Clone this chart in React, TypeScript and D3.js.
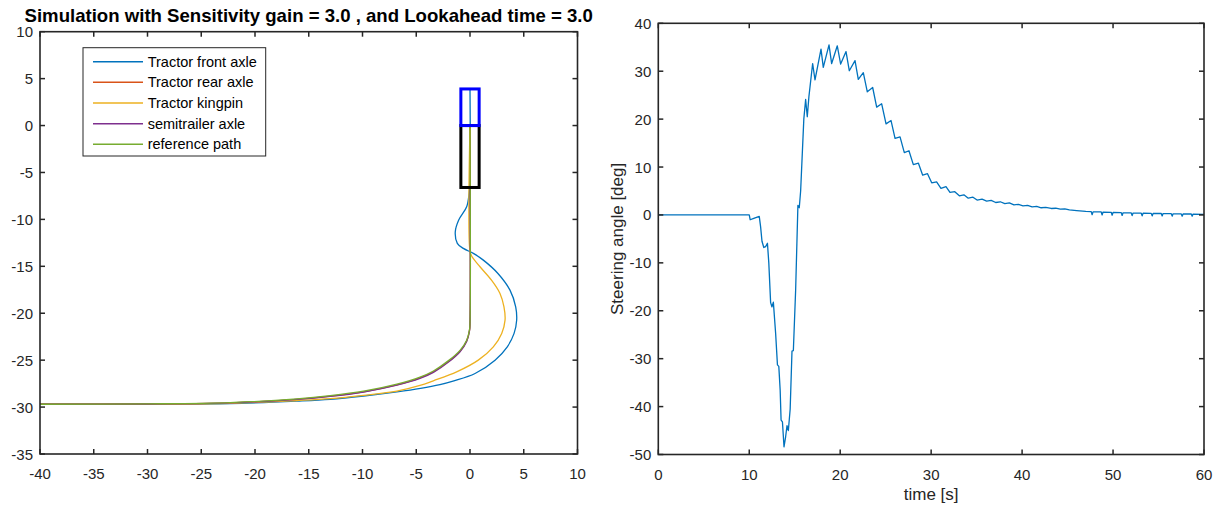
import React from "react";
import * as d3 from "d3";

type Pt = [number, number];

// ---------- Left plot: trajectories ----------
const seriesNames = ["Tractor front axle", "Tractor rear axle", "Tractor kingpin", "semitrailer axle", "reference path"];
const seriesColors = ["#0072BD", "#D95319", "#EDB120", "#7E2F8E", "#77AC30"];

const frontAxle: Pt[] = [
  [-40, -29.7], [-30, -29.68], [-22.3, -29.62], [-16.1, -29.36], [-13, -29.17], [-9.9, -28.82],
  [-6.8, -28.38], [-4.6, -28.0], [-2.8, -27.6], [-1.5, -27.2], [0.47, -26.42], [2.33, -25.0],
  [3.47, -23.58], [4.1, -22.15], [4.34, -20.74], [4.25, -19.32], [3.72, -17.54], [2.6, -15.76],
  [1.24, -14.34], [0.31, -13.62], [-0.62, -13.09], [-1.18, -12.56], [-1.37, -11.32],
  [-1.05, -10.07], [-0.31, -8.66], [-0.08, -7.2], [0, -6], [0, 3.9],
];
const rearAxle: Pt[] = [
  [-40, -29.7], [-30, -29.67], [-22.3, -29.55], [-16.1, -29.17], [-13, -28.84], [-9.9, -28.37],
  [-6.8, -27.63], [-4.65, -26.89], [-3.4, -26.24], [-2.0, -25.15], [-0.93, -24.05], [-0.31, -22.95],
  [-0.05, -21.85], [0, -21], [0, 0],
];
const kingpin: Pt[] = [
  [-40, -29.7], [-30, -29.68], [-22.3, -29.6], [-16.1, -29.3], [-13, -29.1], [-9.9, -28.75],
  [-6.8, -28.3], [-4.65, -27.7], [-3.41, -27.2], [-1.24, -26.25], [0.77, -25.0], [2.17, -23.58],
  [2.95, -22.15], [3.26, -20.74], [3.16, -19.32], [2.79, -17.89], [2.0, -16.47], [0.93, -15.05],
  [0.15, -13.9], [0, -13.4], [0, 0],
];
const trailerAxle: Pt[] = [
  [-40, -29.7], [-30, -29.67], [-22.3, -29.56], [-16.1, -29.19], [-13, -28.87], [-9.9, -28.4],
  [-6.8, -27.67], [-4.65, -26.94], [-3.4, -26.3], [-2.0, -25.2], [-0.93, -24.1], [-0.31, -23.0],
  [-0.05, -21.9], [0, -21], [0, -6.6],
];
const referencePath: Pt[] = [
  [-40, -29.7], [-30, -29.66], [-22.3, -29.52], [-16.1, -29.12], [-13, -28.78], [-9.9, -28.3],
  [-6.8, -27.55], [-4.65, -26.8], [-3.4, -26.15], [-2.0, -25.05], [-0.93, -23.95], [-0.31, -22.87],
  [-0.05, -21.8], [0, -21], [0, 0],
];
const trajectories = [frontAxle, rearAxle, kingpin, trailerAxle, referencePath];

// vehicle outlines [x0, x1, y0, y1]
const tractorBox = [-0.85, 0.85, 0, 3.9];
const trailerBox = [-0.85, 0.85, -6.6, 0];

const leftXTicks = [-40, -35, -30, -25, -20, -15, -10, -5, 0, 5, 10];
const leftYTicks = [-35, -30, -25, -20, -15, -10, -5, 0, 5, 10];

// ---------- Right plot: steering angle ----------
const steerTime = [
  0, 10.0, 10.1, 10.5, 11.1, 11.25, 11.4, 11.6, 11.8, 12.0, 12.15, 12.35, 12.5, 12.65, 12.9, 13.1,
  13.25, 13.4, 13.5, 13.65, 13.82, 14.0, 14.15, 14.3, 14.5, 14.7, 14.85, 15.1, 15.35, 15.5, 15.65,
  16.0, 16.2, 16.38, 16.56, 16.97, 17.23, 17.89, 18.14, 18.77, 19.06, 19.68, 20.05, 20.64, 21.0,
  21.63, 21.99, 22.54, 22.98, 23.57, 24.01, 24.56, 25.04, 25.59, 26.03, 26.58, 27.05, 27.56,
  28.04, 28.6, 29.07, 29.6, 30.06, 30.6, 31.08, 31.63, 32.07, 32.6, 33.1, 33.6, 34.08, 34.6,
  35.05, 35.6, 36.1, 36.6, 37.1, 37.6, 38.1, 38.6, 39.1, 39.6, 40.1, 40.6, 41.1, 41.6, 42.1,
  42.6, 43.2, 43.7, 44.2, 44.7, 45.2, 46.0, 47.0, 47.6, 47.7, 47.8, 48.7, 48.8, 48.9, 49.8,
  49.9, 50.0, 50.9, 51.0, 51.1, 52.0, 52.1, 52.2, 53.1, 53.2, 53.3, 54.2, 54.3, 54.4, 55.3,
  55.4, 55.5, 56.4, 56.5, 56.6, 57.5, 57.6, 57.7, 58.6, 58.7, 58.8, 60.0,
];
const steerAngle = [
  0, 0, -1.0, -0.7, -0.3, -2.5, -5.5, -6.8, -6.6, -5.9, -10, -18.3, -19.2, -18.2, -24.7, -31.3,
  -31.6, -36.6, -42.8, -43.2, -48.4, -46.3, -44.0, -45.0, -40.5, -28.4, -28.3, -15.7, 2.0, 1.5, 5,
  20, 24.1, 20.5, 24.7, 31.6, 28.2, 34.6, 30.8, 35.5, 31.6, 35.3, 31.5, 34.1, 30.1,
  32.2, 28.3, 29.7, 25.7, 26.6, 22.5, 23.2, 19.0, 19.7, 16.0, 16.3, 13.0, 13.4,
  10.5, 10.8, 8.3, 8.6, 6.7, 6.9, 5.55, 5.9, 4.7, 4.85, 4.0, 4.2, 3.5, 3.7,
  3.1, 3.3, 2.9, 3.05, 2.6, 2.75, 2.35, 2.5, 2.1, 2.2, 1.9, 2.0, 1.7, 1.8, 1.5,
  1.6, 1.35, 1.4, 1.2, 1.25, 1.05, 0.9, 0.75, 0.7, 0.05, 0.65, 0.62, 0.0, 0.6, 0.55,
  -0.05, 0.52, 0.48, -0.1, 0.45, 0.42, -0.15, 0.4, 0.37, -0.2, 0.35, 0.33, -0.2, 0.31, 0.3,
  -0.2, 0.28, 0.26, -0.25, 0.24, 0.22, -0.25, 0.21, 0.2, -0.25, 0.18, 0.1,
];
const rightXTicks = [0, 10, 20, 30, 40, 50, 60];
const rightYTicks = [-50, -40, -30, -20, -10, 0, 10, 20, 30, 40];

const titleText = "Simulation with Sensitivity gain = 3.0 , and Lookahead time = 3.0";
const xLabelRight = "time [s]";
const yLabelRight = "Steering angle [deg]";

const AX = "#262626";
const FONT = "'Liberation Sans', Arial, Helvetica, sans-serif";

function Frame({ x, y, xTicks, yTicks }: { x: d3.ScaleLinear<number, number>; y: d3.ScaleLinear<number, number>; xTicks: number[]; yTicks: number[] }) {
  const [x0, x1] = x.range();
  const [y0, y1] = y.range(); // y0 bottom, y1 top
  const tl = 5;
  return (
    <g>
      {xTicks.map((t) => (
        <g key={"x" + t}>
          <line x1={x(t)} x2={x(t)} y1={y0} y2={y0 - tl} stroke={AX} strokeWidth={1.5} />
          <line x1={x(t)} x2={x(t)} y1={y1} y2={y1 + tl} stroke={AX} strokeWidth={1.5} />
          <text x={x(t)} y={y0 + 25} textAnchor="middle" fontSize={15} fill={AX} fontFamily={FONT}>{t}</text>
        </g>
      ))}
      {yTicks.map((t) => (
        <g key={"y" + t}>
          <line x1={x0} x2={x0 + tl} y1={y(t)} y2={y(t)} stroke={AX} strokeWidth={1.5} />
          <line x1={x1} x2={x1 - tl} y1={y(t)} y2={y(t)} stroke={AX} strokeWidth={1.5} />
          <text x={x0 - 7} y={y(t) + 5.5} textAnchor="end" fontSize={15} fill={AX} fontFamily={FONT}>{t}</text>
        </g>
      ))}
      <rect x={x0} y={y1} width={x1 - x0} height={y0 - y1} fill="none" stroke={AX} strokeWidth={1.6} />
    </g>
  );
}

export default function App() {
  const xL = d3.scaleLinear().domain([-40, 10]).range([40, 577.5]);
  const yL = d3.scaleLinear().domain([-35, 10]).range([454, 31.7]);
  const xR = d3.scaleLinear().domain([0, 60]).range([658.3, 1204]);
  const yR = d3.scaleLinear().domain([-50, 40]).range([454.5, 23.3]);

  const pathGen = d3.line<Pt>().x((d) => xL(d[0])).y((d) => yL(d[1])).curve(d3.curveCatmullRom.alpha(0.5));
  const steerGen = d3.line<number>().x((_, i) => xR(steerTime[i])).y((d) => yR(d));

  const boxes = [
    { b: trailerBox, c: "#000000" },
    { b: tractorBox, c: "#0000FF" },
  ];

  const legendRows = seriesNames.map((n, i) => ({ n, c: seriesColors[i], y: 61.7 + i * 20.65 }));

  return (
    <svg width={1217} height={511} style={{ position: "absolute", left: 0, top: 0, background: "#fff" }} fontFamily={FONT}>
      <rect width={1217} height={511} fill="#fff" />
      {/* left plot */}
      <g>
        {trajectories.map((p, i) => (
          <path key={i} d={pathGen(p) || ""} fill="none" stroke={seriesColors[i]} strokeWidth={1.3} />
        ))}
        {boxes.map(({ b, c }, i) => (
          <rect key={i} x={xL(b[0])} y={yL(b[3])} width={xL(b[1]) - xL(b[0])} height={yL(b[2]) - yL(b[3])} fill="none" stroke={c} strokeWidth={3} />
        ))}
        <Frame x={xL} y={yL} xTicks={leftXTicks} yTicks={leftYTicks} />
        <rect x={83} y={47.7} width={182.7} height={108.3} fill="#fff" stroke={AX} strokeWidth={1} />
        {legendRows.map((r) => (
          <g key={r.n}>
            <line x1={93} x2={143} y1={r.y} y2={r.y} stroke={r.c} strokeWidth={1.5} />
            <text x={147.7} y={r.y + 5} fontSize={14.5} fill="#000" fontFamily={FONT}>{r.n}</text>
          </g>
        ))}
        <text x={308.7} y={21.7} textAnchor="middle" fontSize={18.6} fontWeight="bold" fill="#000" fontFamily={FONT}>{titleText}</text>
      </g>
      {/* right plot */}
      <g>
        <path d={steerGen(steerAngle) || ""} fill="none" stroke="#0072BD" strokeWidth={1.3} strokeLinejoin="round" />
        <Frame x={xR} y={yR} xTicks={rightXTicks} yTicks={rightYTicks} />
        <text x={(658.3 + 1204) / 2} y={500} textAnchor="middle" fontSize={17} fill={AX} fontFamily={FONT}>{xLabelRight}</text>
        <text transform={`translate(623,${(23.3 + 454.5) / 2}) rotate(-90)`} textAnchor="middle" fontSize={17} fill={AX} fontFamily={FONT}>{yLabelRight}</text>
      </g>
    </svg>
  );
}
